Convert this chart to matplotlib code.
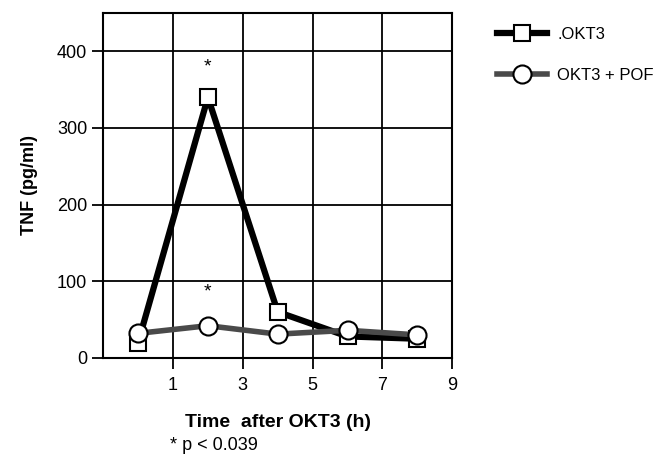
import numpy as np
import matplotlib
matplotlib.use('Agg')
import matplotlib.pyplot as plt

#%% Data

time_h = [0, 2, 4, 6, 8]
tnf_okt3 = [20, 340, 60, 28, 25]
tnf_okt3_pof = [32, 42, 31, 36, 30]
star_x = [2, 2]
star_y = [380, 86]
x_ticks = [1, 3, 5, 7, 9]
y_ticks = [0, 100, 200, 300, 400]

plt.rcParams['font.family'] = ['Liberation Sans', 'DejaVu Sans']

#%% Plot

fig = plt.figure(figsize=(6.7, 4.66), dpi=100)
ax = fig.add_axes([0.154, 0.232, 0.521, 0.74])

# grid like graph paper
for yv in y_ticks[1:]:
    ax.axhline(yv, color='black', lw=1.3, zorder=1)
for xv in x_ticks[:-1]:
    ax.axvline(xv, color='black', lw=1.3, zorder=1)

ax.plot(time_h, tnf_okt3_pof, color='#4a4a4a', lw=4, marker='o',
        markersize=13, markerfacecolor='white', markeredgecolor='black',
        markeredgewidth=1.5, zorder=3, label='OKT3 + POF')
ax.plot(time_h, tnf_okt3, color='black', lw=4.5, marker='s',
        markersize=12, markerfacecolor='white', markeredgecolor='black',
        markeredgewidth=1.5, zorder=2, label='.OKT3')

for sx, sy in zip(star_x, star_y):
    ax.text(sx, sy, '*', ha='center', va='center', fontsize=14)

ax.set_xlim(-1, 9)
ax.set_ylim(0, 450)
ax.set_xticks(x_ticks)
ax.set_yticks(y_ticks)
ax.tick_params(axis='both', direction='out', length=8, width=1.3,
               labelsize=13)
ax.tick_params(axis='x', pad=6)
for s in ax.spines.values():
    s.set_linewidth(1.5)

ax.set_ylabel('TNF (pg/ml)', fontsize=13, fontweight='bold', labelpad=14)
ax.set_xlabel('Time  after OKT3 (h)', fontsize=14, fontweight='bold',
              labelpad=14)
fig.text(0.253, 0.025, '* p < 0.039', fontsize=13, ha='left', va='bottom')

handles, labels = ax.get_legend_handles_labels()
fig.legend(handles[::-1], labels[::-1], loc='upper left',
           bbox_to_anchor=(0.72, 0.975), frameon=False, fontsize=12,
           handlelength=3.0, handletextpad=0.6, labelspacing=1.6)

plt.savefig('out.png', dpi=100)
